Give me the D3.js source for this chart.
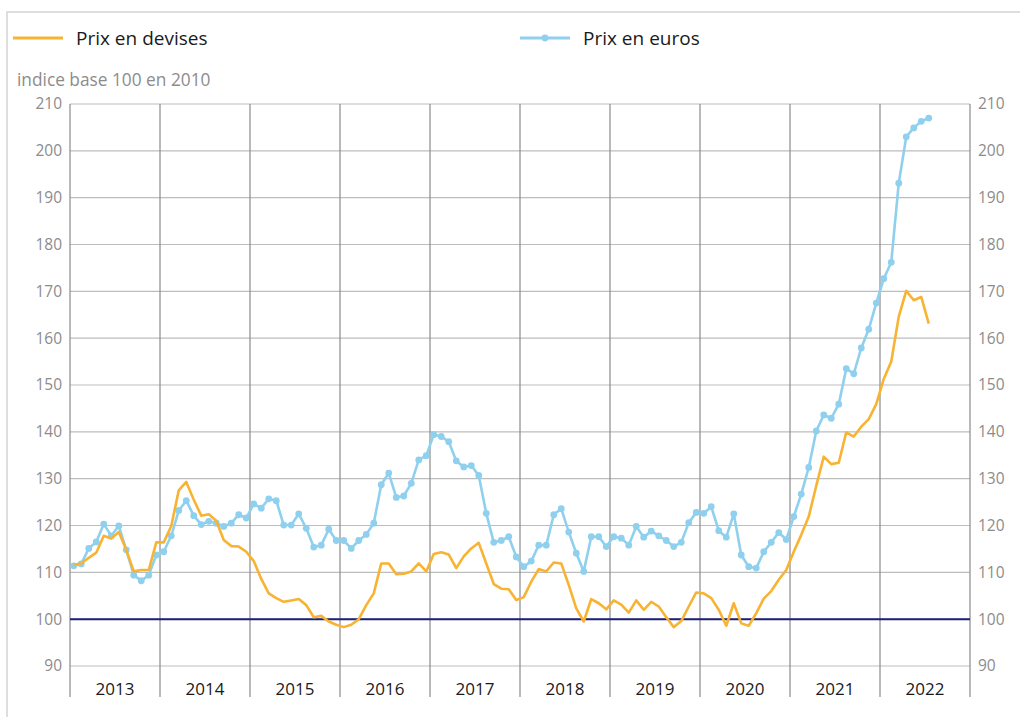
<!DOCTYPE html>
<html>
<head>
<meta charset="utf-8">
<script src="https://cdn.jsdelivr.net/npm/d3@7"></script>
<style>
  body { margin: 0; background: #fff; }
  svg { font-family: "Open Sans", sans-serif; }
</style>
</head>
<body>
<div id="chart"></div>
<script>
// Years on the x axis
const years = ["2013", "2014", "2015", "2016", "2017", "2018", "2019", "2020", "2021", "2022"];

// Monthly values, Jan 2013 to Jul 2022 (index base 100 en 2010)
const prixDevises = [
  111.6, 111.9, 113.1, 114.2, 117.8, 117.2, 118.6, 114.8, 110.2, 110.5, 110.5, 116.4,
  116.4, 119.9, 127.5, 129.3, 125.5, 122.1, 122.4, 121.0, 116.9, 115.6, 115.5, 114.4,
  112.4, 108.6, 105.5, 104.5, 103.7, 104.0, 104.3, 103.0, 100.4, 100.7, 99.5, 98.8,
  98.3, 98.8, 100.0, 103.0, 105.5, 111.9, 111.9, 109.6, 109.7, 110.2, 111.9, 110.2,
  113.9, 114.3, 113.8, 110.9, 113.4, 115.1, 116.3, 111.9, 107.5, 106.5, 106.4, 104.1,
  104.7, 108.0, 110.7, 110.2, 112.1, 111.9, 107.3, 102.3, 99.5, 104.3, 103.4, 102.1,
  104.0, 103.1, 101.4, 104.0, 102.0, 103.7, 102.7, 100.4, 98.3, 99.6, 102.7, 105.7,
  105.5, 104.5, 102.0, 98.6, 103.4, 99.1, 98.6, 101.3, 104.4, 106.0, 108.4, 110.5,
  114.4, 118.0, 121.9, 128.5, 134.7, 133.1, 133.4, 139.9, 139.0, 141.1, 142.7, 145.9,
  151.3, 155.0, 164.6, 170.1, 168.1, 168.8, 163.1
];

const prixEuros = [
  111.4, 111.8, 115.1, 116.5, 120.3, 117.8, 119.9, 114.8, 109.4, 108.2, 109.4, 113.7,
  114.4, 117.8, 123.2, 125.3, 122.1, 120.2, 120.9, 120.5, 119.8, 120.5, 122.3, 121.6,
  124.6, 123.7, 125.7, 125.3, 120.1, 120.1, 122.5, 119.4, 115.4, 115.8, 119.2, 116.8,
  116.8, 115.1, 116.8, 118.1, 120.5, 128.7, 131.2, 126.0, 126.3, 129.0, 134.0, 134.9,
  139.4, 139.0, 137.9, 133.8, 132.5, 132.8, 130.7, 122.6, 116.4, 116.8, 117.6, 113.3,
  111.2, 112.4, 115.8, 115.8, 122.3, 123.6, 118.6, 114.1, 110.2, 117.6, 117.6, 115.5,
  117.6, 117.3, 115.8, 119.8, 117.5, 118.8, 117.8, 116.8, 115.5, 116.4, 120.6, 122.8,
  122.6, 124.0, 118.9, 117.5, 122.5, 113.7, 111.2, 110.9, 114.4, 116.4, 118.5, 117.0,
  121.9, 126.7, 132.4, 140.2, 143.6, 142.9, 145.9, 153.5, 152.4, 157.9, 161.9, 167.5,
  172.7, 176.2, 193.1, 203.0, 204.9, 206.3, 207.0
];

const yTicks = [90, 100, 110, 120, 130, 140, 150, 160, 170, 180, 190, 200, 210];

const orange = "#f8b332";
const blue = "#8fd0ee";

const width = 1020, height = 717;
const plotLeft = 70, plotRight = 970, plotTop = 104, plotBottom = 666, bandBottom = 697;

const svg = d3.select("#chart").append("svg")
  .attr("width", width)
  .attr("height", height);

// outer frame
svg.append("rect")
  .attr("x", 7).attr("y", 12)
  .attr("width", 1030).attr("height", 720)
  .attr("fill", "none")
  .attr("stroke", "#dedede")
  .attr("stroke-width", 2);

// scales
const x = d3.scaleLinear().domain([0, years.length * 12]).range([plotLeft, plotRight]);
const xYear = d3.scaleBand().domain(years).range([plotLeft, plotRight]);
const y = d3.scaleLinear().domain([90, 210]).range([plotBottom, plotTop]);

// horizontal grid
svg.append("g")
  .selectAll("line")
  .data(yTicks)
  .join("line")
  .attr("x1", plotLeft).attr("x2", plotRight)
  .attr("y1", d => y(d)).attr("y2", d => y(d))
  .attr("stroke", "#bdbdbd")
  .attr("stroke-width", 1.2);

// vertical year separators
svg.append("g")
  .selectAll("line")
  .data(d3.range(years.length + 1))
  .join("line")
  .attr("x1", d => x(d * 12)).attr("x2", d => x(d * 12))
  .attr("y1", plotTop).attr("y2", bandBottom)
  .attr("stroke", "#8a8a8a")
  .attr("stroke-width", 1.2);

// base 100 line
svg.append("line")
  .attr("x1", plotLeft).attr("x2", plotRight)
  .attr("y1", y(100)).attr("y2", y(100))
  .attr("stroke", "#1f1f7a")
  .attr("stroke-width", 2);

// y axes (left and right)
const yAxisL = d3.axisLeft(y).tickValues(yTicks).tickSize(0).tickPadding(8);
const yAxisR = d3.axisRight(y).tickValues(yTicks).tickSize(0).tickPadding(8);

const gL = svg.append("g").attr("transform", `translate(${plotLeft},0)`).call(yAxisL);
const gR = svg.append("g").attr("transform", `translate(${plotRight},0)`).call(yAxisR);
[gL, gR].forEach(g => {
  g.select(".domain").remove();
  g.selectAll("text")
    .attr("fill", "#8c8c8c")
    .attr("font-size", 15.5)
    .attr("font-family", "Open Sans, sans-serif");
});

// x axis, year labels centred in their band
const xAxis = d3.axisBottom(xYear).tickSize(0).tickPadding(0);
const gX = svg.append("g").attr("transform", "translate(0,683)").call(xAxis);
gX.select(".domain").remove();
gX.selectAll("text")
  .attr("fill", "#1a1a1a")
  .attr("font-size", 17)
  .attr("font-family", "Open Sans, sans-serif");

// lines
const line = d3.line()
  .x((d, i) => x(i + 0.5))
  .y(d => y(d));

svg.append("path")
  .datum(prixEuros)
  .attr("fill", "none")
  .attr("stroke", blue)
  .attr("stroke-width", 2.6)
  .attr("stroke-linejoin", "round")
  .attr("d", line);

svg.append("g")
  .selectAll("circle")
  .data(prixEuros)
  .join("circle")
  .attr("cx", (d, i) => x(i + 0.5))
  .attr("cy", d => y(d))
  .attr("r", 3.4)
  .attr("fill", blue);

svg.append("path")
  .datum(prixDevises)
  .attr("fill", "none")
  .attr("stroke", orange)
  .attr("stroke-width", 2.6)
  .attr("stroke-linejoin", "round")
  .attr("d", line);

// unit label
svg.append("text")
  .attr("x", 17).attr("y", 86)
  .attr("fill", "#8c8c8c")
  .attr("font-size", 17.3)
  .text("indice base 100 en 2010");

// legend
const legend = svg.append("g");
legend.append("line")
  .attr("x1", 13).attr("x2", 63).attr("y1", 38).attr("y2", 38)
  .attr("stroke", orange).attr("stroke-width", 3);
legend.append("text")
  .attr("x", 76).attr("y", 45)
  .attr("fill", "#1a1a1a").attr("font-size", 19)
  .text("Prix en devises");

legend.append("line")
  .attr("x1", 520).attr("x2", 570).attr("y1", 38).attr("y2", 38)
  .attr("stroke", blue).attr("stroke-width", 3);
legend.append("circle")
  .attr("cx", 545).attr("cy", 38).attr("r", 3.4)
  .attr("fill", blue);
legend.append("text")
  .attr("x", 583).attr("y", 45)
  .attr("fill", "#1a1a1a").attr("font-size", 19)
  .text("Prix en euros");
</script>
</body>
</html>
